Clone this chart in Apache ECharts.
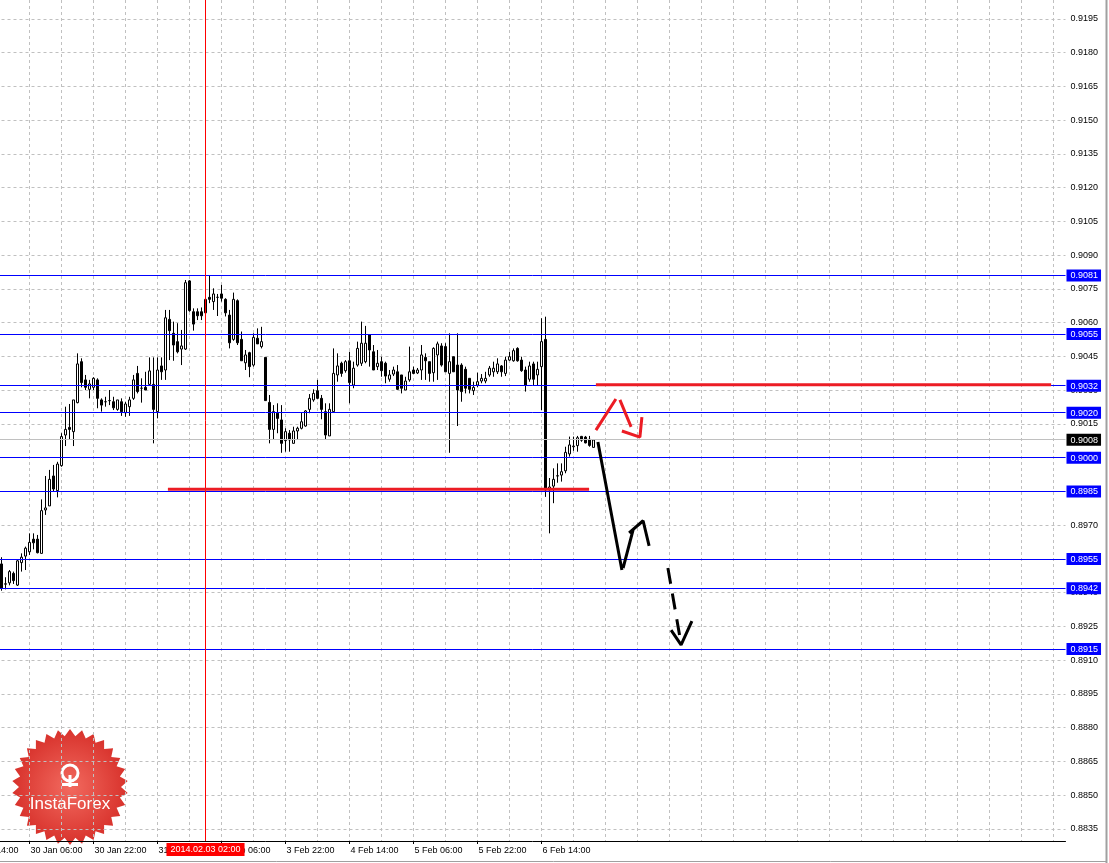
<!DOCTYPE html>
<html><head><meta charset="utf-8">
<script src="https://cdn.jsdelivr.net/npm/echarts@6.0.0/dist/echarts.min.js"></script>
<style>html,body{margin:0;padding:0;background:#fff}#c{width:1109px;height:863px}</style>
</head><body><div id="c"></div>
<script>
// ---------- data (H1 candles) ----------
const firstBar = 9; // category index of the first visible candle (29 Jan 23:00)
const opens = [
.89528,.89438,.89444,.89486,.89434,.89534,.89563,.89582,.89638,.89638,
.89575,.89768,.89786,.89919,.89854,.89965,.90101,.90135,.90116,.90245,
.90427,.90346,.90304,.90313,.90346,.90257,.90249,.90254,.90249,.90215,
.90249,.90200,.90227,.90264,.90375,.90309,.90313,.90326,.90326,.90205,
.90408,.90390,.90615,.90553,.90516,.90483,.90483,.90786,.90649,.90649,
.90649,.90644,.90713,.90694,.90713,.90728,.90704,.90634,.90526,.90698,
.90526,.90422,.90467,.90412,.90531,.90494,.90446,.90246,.90126,.90198,
.90168,.90076,.90109,.90064,.90119,.90131,.90141,.90215,.90257,.90298,
.90264,.90205,.90097,.90205,.90368,.90420,.90387,.90431,.90323,.90412,
.90420,.90427,.90546,.90471,.90405,.90427,.90420,.90349,.90372,.90382,
.90368,.90301,.90346,.90390,.90377,.90390,.90446,.90427,.90378,.90457,
.90497,.90494,.90375,.90449,.90412,.90412,.90393,.90353,.90298,.90323,
.90341,.90341,.90368,.90382,.90382,.90408,.90375,.90434,.90431,.90486,
.90434,.90390,.90349,.90417,.90368,.90405,.90526,.89857,.89874,.89919,
.89923,.89942,.90017,.90049,.90054,.90095,.90092,.90082,.90046];
const closes = [
.89420,.89440,.89494,.89454,.89542,.89558,.89598,.89624,.89622,.89578,
.89765,.89777,.89904,.89861,.89972,.90094,.90126,.90126,.90257,.90417,
.90334,.90313,.90328,.90353,.90264,.90234,.90249,.90254,.90222,.90257,
.90205,.90239,.90257,.90346,.90294,.90309,.90301,.90386,.90215,.90390,
.90382,.90622,.90565,.90501,.90471,.90497,.90778,.90654,.90594,.90631,
.90631,.90704,.90704,.90728,.90713,.90709,.90644,.90511,.90704,.90511,
.90431,.90457,.90405,.90535,.90506,.90516,.90254,.90126,.90205,.90175,
.90064,.90116,.90079,.90119,.90131,.90160,.90208,.90264,.90286,.90264,
.90215,.90101,.90215,.90375,.90408,.90375,.90427,.90334,.90398,.90486,
.90509,.90509,.90479,.90390,.90420,.90387,.90363,.90368,.90390,.90304,
.90309,.90341,.90382,.90375,.90390,.90457,.90431,.90375,.90486,.90506,
.90412,.90382,.90427,.90382,.90301,.90294,.90309,.90304,.90313,.90338,
.90353,.90353,.90398,.90398,.90417,.90382,.90434,.90449,.90476,.90431,
.90387,.90323,.90408,.90349,.90393,.90516,.89857,.89870,.89904,.89920,
.89938,.90024,.90057,.90052,.90089,.90078,.90066,.90055,.90079];
const lows = [
.89409,.89415,.89433,.89439,.89430,.89494,.89501,.89568,.89593,.89575,
.89575,.89746,.89786,.89849,.89824,.89960,.90052,.90079,.90052,.90242,
.90313,.90301,.90264,.90301,.90220,.90205,.90227,.90234,.90212,.90209,
.90186,.90182,.90186,.90257,.90286,.90245,.90301,.90319,.90064,.90175,
.90346,.90346,.90434,.90431,.90464,.90412,.90479,.90649,.90565,.90612,
.90612,.90644,.90687,.90657,.90630,.90694,.90628,.90486,.90520,.90501,
.90431,.90390,.90358,.90405,.90506,.90486,.90254,.90064,.90079,.90109,
.90022,.90027,.90027,.90064,.90079,.90126,.90138,.90198,.90249,.90260,
.90171,.90079,.90097,.90205,.90338,.90360,.90378,.90242,.90309,.90405,
.90408,.90420,.90405,.90390,.90390,.90360,.90331,.90338,.90363,.90301,
.90286,.90301,.90338,.90372,.90372,.90346,.90346,.90338,.90338,.90346,
.90405,.90382,.90022,.90382,.90141,.90249,.90286,.90286,.90279,.90313,
.90331,.90331,.90360,.90360,.90372,.90360,.90363,.90431,.90427,.90427,
.90382,.90294,.90338,.90323,.90323,.90212,.89826,.89664,.89798,.89889,
.89894,.89931,.90005,.90031,.90027,.90071,.90064,.90049,.90046];
const highs = [
.89558,.89469,.89501,.89494,.89546,.89575,.89605,.89664,.89664,.89657,
.89815,.89919,.89946,.89968,.89982,.90109,.90227,.90239,.90257,.90464,
.90442,.90368,.90346,.90358,.90353,.90264,.90271,.90301,.90271,.90257,
.90264,.90249,.90271,.90368,.90408,.90353,.90382,.90446,.90446,.90446,
.90446,.90657,.90657,.90605,.90598,.90568,.90790,.90790,.90664,.90664,
.90668,.90742,.90808,.90753,.90728,.90768,.90709,.90657,.90734,.90704,
.90561,.90479,.90471,.90553,.90575,.90582,.90446,.90279,.90234,.90242,
.90234,.90131,.90123,.90138,.90138,.90200,.90212,.90283,.90304,.90346,
.90279,.90242,.90242,.90486,.90464,.90427,.90434,.90471,.90427,.90516,
.90605,.90586,.90546,.90501,.90479,.90449,.90427,.90390,.90405,.90412,
.90368,.90360,.90494,.90405,.90399,.90501,.90464,.90427,.90491,.90516,
.90509,.90509,.90553,.90449,.90553,.90420,.90405,.90353,.90338,.90378,
.90372,.90382,.90408,.90427,.90442,.90412,.90449,.90471,.90486,.90491,
.90449,.90405,.90427,.90427,.90427,.90620,.90627,.89910,.89953,.89975,
.89975,.90049,.90094,.90094,.90097,.90097,.90097,.90097,.90079];

// tick labels
const timeTickLabels = ['29 Jan 14:00','30 Jan 06:00','30 Jan 22:00','31 Jan 14:00','3 Feb 06:00',
  '3 Feb 22:00','4 Feb 14:00','5 Feb 06:00','5 Feb 22:00','6 Feb 14:00'];
const priceTicks = [0.8835,0.8850,0.8865,0.8880,0.8895,0.8910,0.8925,0.8940,0.8955,0.8970,0.8985,
  0.9000,0.9015,0.9030,0.9045,0.9060,0.9075,0.9090,0.9105,0.9120,0.9135,0.9150,0.9165,0.9180,0.9195];

// horizontal levels (blue) and current price (grey)
const levelValues = [0.8915, 0.8942, 0.8955, 0.8985, 0.9000, 0.9020, 0.9032, 0.9055, 0.9081];
const currentPrice = 0.9008;
const crosshairTime = '3 Feb 02:00';
const crosshairLabel = '2014.02.03 02:00';

// hand-drawn annotations, in [bar index, price]
const redPath = [
  [50.6, 0.8986], [155.9, 0.8986], '-',
  [157.6, 0.90325], [271.4, 0.90325], '-',
  [157.6, 0.90123], [162.6, 0.90261], '-',
  [163.6, 0.90257], [166.4, 0.90137], '-',
  [164.1, 0.90119], [168.6, 0.90092], [169.1, 0.90181]
];
const blackPath = [
  [158.1, 0.90070], [164.1, 0.89501], '-',
  [164.4, 0.89510], [166.9, 0.89679], '-',
  [165.9, 0.89666], [169.4, 0.89720], [170.9, 0.89608], '-',
  [176.4, 0.89234], [178.9, 0.89168], [181.6, 0.89274]
];
const blackDashedPath = [[175.6, 0.89510], [178.9, 0.89172]];

// ---------- categories (hourly bars, weekend skipped) ----------
const MONTHS = ['Jan','Feb'];
function buildCategories(n) {
  const out = [];
  let t = Date.UTC(2014, 0, 29, 14);
  while (out.length < n) {
    const d = new Date(t);
    const wd = d.getUTCDay();
    if (wd !== 0 && wd !== 6) {
      out.push(d.getUTCDate() + ' ' + MONTHS[d.getUTCMonth()] + ' ' + String(d.getUTCHours()).padStart(2, '0') + ':00');
    }
    t += 3600000;
  }
  return out;
}
const categories = buildCategories(276);
const N = categories.length;
const candleData = categories.map((c, j) => {
  const k = j - firstBar;
  return (k >= 0 && k < opens.length) ? [opens[k], closes[k], lows[k], highs[k]] : '-';
});
const crossIdx = categories.indexOf(crosshairTime);

const levelTicks = levelValues.concat([currentPrice]).sort((a, b) => a - b);
const isCurrent = v => Math.abs(v - currentPrice) < 1e-7;
const levelColors = levelTicks.map(v => isCurrent(v) ? '#c0c0c0' : '#0000ff');

const FONT = '"Liberation Sans", Arial, sans-serif';
const FS = 9;
const yMax = 0.9195 + 19 / 22500;
const yMin = 0.8835 - 12 / 22500;

const chart = echarts.init(document.getElementById('c'), null, {renderer: 'canvas'});

// starburst logo polygon
const teeth = 30, rOut = 58, rIn = 51;
const starPts = [];
for (let i = 0; i < teeth * 2; i++) {
  const a = Math.PI * i / teeth - Math.PI / 2;
  const r = i % 2 === 0 ? rOut : rIn;
  starPts.push([r * Math.cos(a), r * Math.sin(a)]);
}

chart.setOption({
  animation: false,
  backgroundColor: '#fff',
  textStyle: {fontFamily: FONT},
  grid: {left: -34.5, right: 43.5, top: 0, bottom: 22, containLabel: false, outerBoundsMode: 'none'},
  xAxis: [{
    type: 'category', data: categories, boundaryGap: false,
    axisLine: {show: true, lineStyle: {color: '#000', width: 1}},
    axisTick: {show: true, length: 3, interval: (i, v) => timeTickLabels.includes(v), lineStyle: {color: '#000'}},
    axisLabel: {interval: (i, v) => timeTickLabels.includes(v), align: 'left', margin: 5,
      fontSize: FS, color: '#000', fontFamily: FONT, padding: [0, 0, 0, 1]},
    splitLine: {show: true, interval: (i) => i % 8 === 0, lineStyle: {color: '#c0c0c0', type: [3, 3], width: 1}}
  }, {
    type: 'value', min: 0, max: N - 1, show: false
  }],
  yAxis: [{
    type: 'value', position: 'right', min: yMin, max: yMax, scale: true, z: 0,
    axisLine: {show: true, lineStyle: {color: '#000'}},
    axisTick: {show: true, length: 3, customValues: priceTicks, lineStyle: {color: '#000'}},
    axisLabel: {customValues: priceTicks, formatter: v => v.toFixed(4), margin: 5, fontSize: FS,
      color: '#000', fontFamily: FONT},
    splitLine: {show: true, lineStyle: {color: '#c0c0c0', type: [3, 3], width: 1}}
  }, {
    // horizontal level objects with their price boxes
    type: 'value', position: 'right', min: yMin, max: yMax, scale: true, z: 5,
    axisLine: {show: false},
    axisTick: {show: false, customValues: levelTicks},
    axisLabel: {customValues: levelTicks, margin: 1,
      formatter: v => (isCurrent(v) ? '{cur|' : '{lvl|') + v.toFixed(4) + '}',
      rich: {
        lvl: {backgroundColor: '#0000ff', color: '#fff', padding: [2, 3, 1, 4], fontSize: FS, lineHeight: 10, fontFamily: FONT},
        cur: {backgroundColor: '#000000', color: '#fff', padding: [2, 3, 1, 4], fontSize: FS, lineHeight: 10, fontFamily: FONT}
      }},
    splitLine: {show: true, lineStyle: {color: levelColors, type: 'solid', width: 1}}
  }],
  series: [
    {
      type: 'candlestick', xAxisIndex: 0, yAxisIndex: 0, data: candleData, barWidth: 2, z: 3,
      itemStyle: {color: '#fff', color0: '#000', borderColor: '#000', borderColor0: '#000',
        borderColorDoji: '#000', borderWidth: 1}
    },
    {
      type: 'line', xAxisIndex: 0, yAxisIndex: 0, data: [], z: 4, silent: true,
      markLine: {
        silent: true, symbol: ['none', 'none'], animation: false, precision: 6,
        data: [
          {xAxis: crossIdx, lineStyle: {color: '#ff0000', width: 1, type: 'solid'},
            label: {show: true, position: 'start', formatter: crosshairLabel, color: '#fff',
              backgroundColor: '#ff0000', padding: [2, 4, 1, 4], fontSize: FS, lineHeight: 10,
              fontFamily: FONT, distance: 2}}
        ]
      }
    },
    {
      type: 'line', xAxisIndex: 1, yAxisIndex: 0, data: redPath, z: 6, silent: true,
      symbol: 'none', connectNulls: false, lineStyle: {color: '#ec1c24', width: 3}
    },
    {
      type: 'line', xAxisIndex: 1, yAxisIndex: 0, data: blackPath, z: 6, silent: true,
      symbol: 'none', connectNulls: false, lineStyle: {color: '#000', width: 3}
    },
    {
      type: 'line', xAxisIndex: 1, yAxisIndex: 0, data: blackDashedPath, z: 6, silent: true,
      symbol: 'none', lineStyle: {color: '#000', width: 3, type: [16, 10]}
    }
  ],
  graphic: [
    {type: 'line', shape: {x1: 1106.5, y1: 0, x2: 1106.5, y2: 863}, style: {stroke: '#a0a0a0', lineWidth: 2}, z: 10},
    {type: 'line', shape: {x1: 0, y1: 861.5, x2: 1107, y2: 861.5}, style: {stroke: '#a0a0a0', lineWidth: 1}, z: 10},
    {
      type: 'group', x: 70, y: 787, z: 20,
      children: [
        {type: 'polygon', shape: {points: starPts},
          style: {fill: {type: 'radial', x: 0.5, y: 0.5, r: 0.5,
            colorStops: [{offset: 0, color: '#f26a5f'}, {offset: 1, color: '#d8322c'}]}}},
        {type: 'circle', shape: {cx: 0, cy: -14, r: 8}, style: {fill: 'none', stroke: '#fff', lineWidth: 3}},
        {type: 'rect', shape: {x: -1.5, y: -12, width: 3, height: 12}, style: {fill: '#fff'}},
        {type: 'rect', shape: {x: -8, y: -4, width: 16, height: 3}, style: {fill: '#fff'}},
        {type: 'text', x: 0, y: 17, style: {text: 'InstaForex', fill: '#fff', font: '17px "Liberation Sans", Arial, sans-serif',
          textAlign: 'center', textVerticalAlign: 'middle'}}
      ]
    }
  ]
});
</script>
</body></html>
